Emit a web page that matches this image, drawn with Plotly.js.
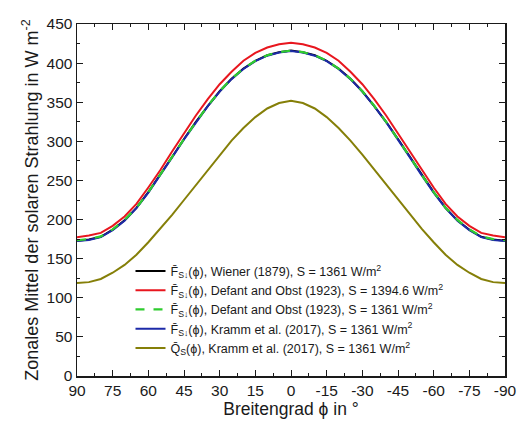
<!DOCTYPE html>
<html>
<head>
<meta charset="utf-8">
<script src="https://cdn.plot.ly/plotly-3.0.1.min.js"></script>
<style>html,body{margin:0;padding:0;background:#fff;}#chart{width:528px;height:421px;}</style>
</head>
<body>
<div id="chart"></div>
<script>
// Latitude in degrees (90 N .. 90 S)
var lat = [90,85,80,75,70,65,60,55,50,45,40,35,30,25,20,15,10,5,0,-5,-10,-15,-20,-25,-30,-35,-40,-45,-50,-55,-60,-65,-70,-75,-80,-85,-90];

// Wiener (1879), S = 1361
var wiener1361 = [173,174.5,178,187,199,215,235,257,280,303,325,345,364,380,393,403,410,414,416,414,410,403,393,380,364,345,325,303,280,257,235,215,199,187,178,174.5,173];
// Defant and Obst (1923), S = 1394.6
var defant1394 = [177.5,179.5,183,192,204,220,241,263,287,310,333,354,373,389,403,413,420,424,426,424,420,413,403,389,373,354,333,310,287,263,241,220,204,192,183,179.5,177.5];
// Defant and Obst (1923), S = 1361
var defant1361 = [173.5,175,178.5,187.5,199.5,215,235,257,280,303,325,345.5,364,380,393,403,410,414,416,414,410,403,393,380,364,345.5,325,303,280,257,235,215,199.5,187.5,178.5,175,173.5];
// Kramm et al. (2017), S = 1361
var kramm1361 = [172.5,174,177.5,186.5,198.5,214.5,234.5,256.5,279.5,302.5,324.5,345,363.5,379.5,392.5,402.5,409.5,413.5,415.5,413.5,409.5,402.5,392.5,379.5,363.5,345,324.5,302.5,279.5,256.5,234.5,214.5,198.5,186.5,177.5,174,172.5];
// Kramm et al. (2017), Q_S, S = 1361
var krammQ = [119,120,124,132,142,155,171,188,206,225,244,264,283,301,317,331,342,349,352,349,342,331,317,301,283,264,244,225,206,188,171,155,142,132,124,120,119];

// Tick labels (plain hyphen minus as in the reference)
var xTickVals = [90,75,60,45,30,15,0,-15,-30,-45,-60,-75,-90];
var xTickText = ['90','75','60','45','30','15','0','-15','-30','-45','-60','-75','-90'];

var names = [
  'F\u0304<sub>S\u2193</sub>(\u03d5), Wiener (1879), S = 1361 W/m<sup>2</sup>',
  'F\u0304<sub>S\u2193</sub>(\u03d5), Defant and Obst (1923), S = 1394.6 W/m<sup>2</sup>',
  'F\u0304<sub>S\u2193</sub>(\u03d5), Defant and Obst (1923), S = 1361 W/m<sup>2</sup>',
  'F\u0304<sub>S\u2193</sub>(\u03d5), Kramm et al. (2017), S = 1361 W/m<sup>2</sup>',
  'Q\u0304<sub>S</sub>(\u03d5), Kramm et al. (2017), S = 1361 W/m<sup>2</sup>'
];

var traces = [
  {x: lat, y: wiener1361, name: names[0], legendrank: 1, line: {color: '#000000', width: 2}},
  {x: lat, y: defant1394, name: names[1], legendrank: 2, line: {color: '#e8161e', width: 2}},
  {x: lat, y: kramm1361, name: names[3], legendrank: 4, line: {color: '#1c2aa8', width: 2}},
  {x: lat, y: defant1361, name: names[2], legendrank: 3, line: {color: '#2fcc2f', width: 2.2, dash: 'dash'}},
  {x: lat, y: krammQ, name: names[4], legendrank: 5, line: {color: '#857f08', width: 2}}
];
traces.forEach(function(t){ t.type = 'scatter'; t.mode = 'lines'; });

var layout = {
  width: 528, height: 421,
  margin: {l: 77, r: 23, t: 24, b: 45},
  paper_bgcolor: '#ffffff', plot_bgcolor: '#ffffff',
  font: {family: 'Liberation Sans, Arial, sans-serif', color: '#1a1a1a', size: 15},
  showlegend: true,
  legend: {
    x: 0.125, y: 0.34, xanchor: 'left', yanchor: 'top',
    bgcolor: 'rgba(0,0,0,0)', borderwidth: 0,
    font: {size: 12.5, color: '#1a1a1a'},
    tracegroupgap: 0, itemwidth: 30
  },
  xaxis: {
    range: [90, -90], tickmode: 'array', tickvals: xTickVals, ticktext: xTickText,
    ticks: 'inside', ticklen: 6, tickwidth: 1, tickcolor: '#1a1a1a',
    minor: {dtick: 7.5, tick0: 90, ticks: 'inside', ticklen: 3, tickcolor: '#1a1a1a'},
    showline: true, linecolor: '#1a1a1a', linewidth: 1.5, mirror: 'allticks',
    showgrid: false, zeroline: false,
    tickfont: {size: 15.5},
    title: {text: 'Breitengrad \u03d5 in \u00b0', font: {size: 17.5}, standoff: 0}
  },
  yaxis: {
    range: [0, 450], tickmode: 'linear', tick0: 0, dtick: 50,
    ticks: 'inside', ticklen: 6, tickwidth: 1, tickcolor: '#1a1a1a',
    minor: {dtick: 25, ticks: 'inside', ticklen: 3, tickcolor: '#1a1a1a'},
    showline: true, linecolor: '#1a1a1a', linewidth: 1.5, mirror: 'allticks',
    showgrid: false, zeroline: false,
    tickfont: {size: 15.5},
    title: {text: 'Zonales Mittel der solaren Strahlung in W m<sup>-2</sup>', font: {size: 18}, standoff: 3}
  }
};

Plotly.newPlot('chart', traces, layout, {displayModeBar: false, staticPlot: true});
</script>
</body>
</html>
